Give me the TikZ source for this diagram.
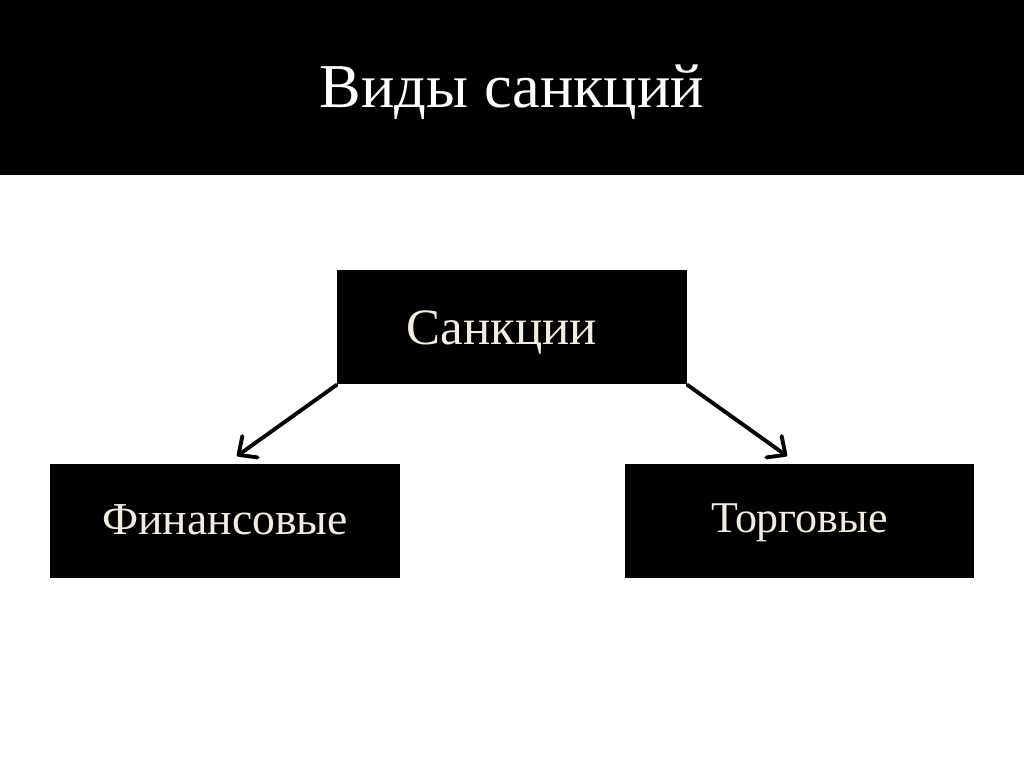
\documentclass[tikz,border=0pt]{standalone}
\usepackage{fontspec}
\setmainfont{Liberation Serif}
\usetikzlibrary{arrows.meta,positioning}
\definecolor{cream}{RGB}{242,236,226}

\tikzstyle{label}=[rectangle,minimum width=7cm,minimum height=2.3cm,text centered,fill=black,text=cream,text depth=0pt]
\tikzstyle{link}=[line width=2.2pt,line cap=round,-{Straight Barb[length=8pt,width=15pt,round]}]

\begin{document}
\begin{tikzpicture}[x=0.02cm,y=-0.02cm]
\useasboundingbox (0,0) rectangle (1024,767);
\fill[black](0,0) rectangle (1024,175);
\node(title)[text=white,font=\fontsize{35.5}{42}\selectfont] at (512,92){Виды санкций};
\node(sanctions)[label,text height=20.4pt,font=\fontsize{29}{34}\selectfont] at (512,327){\kern-0.4cm Санкции};
\node(finance)[label,text height=15.9pt,font=\fontsize{26}{31}\selectfont] at (225,521){Финансовые};
\node(trade)[label,text height=13.6pt,font=\fontsize{25}{30}\selectfont] at (799.5,521){Торговые};
\coordinate(financetip) at (237,456);
\coordinate(tradetip) at (787,456);
\draw[link](sanctions.south west)--(financetip);
\draw[link](sanctions.south east)--(tradetip);
\end{tikzpicture}
\end{document}
